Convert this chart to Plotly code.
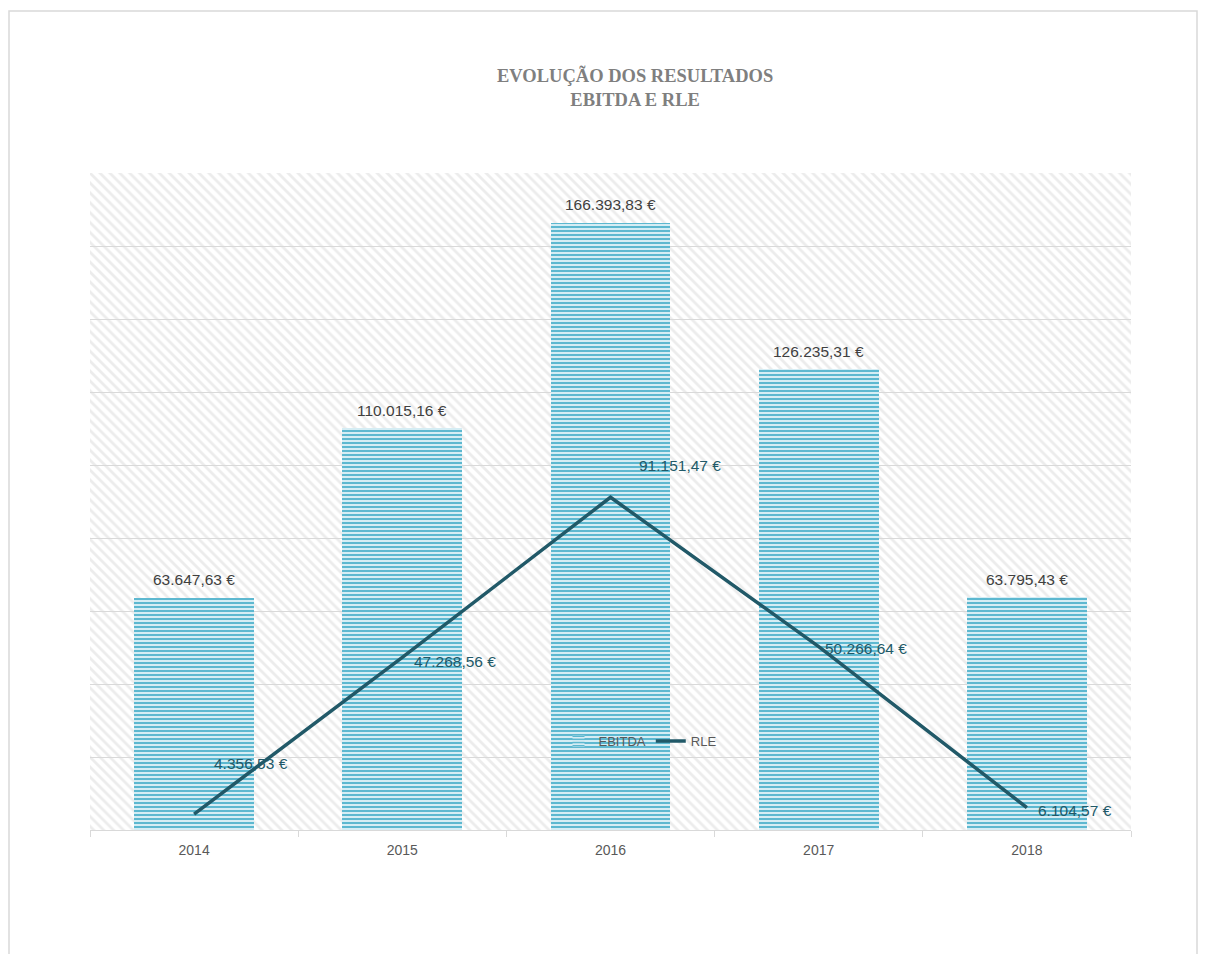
import plotly.graph_objects as go

years = ["2014", "2015", "2016", "2017", "2018"]
ebitda = [63647.63, 110015.16, 166393.83, 126235.31, 63795.43]
rle = [4356.53, 47268.56, 91151.47, 50266.64, 6104.57]
ebitda_labels = ["63.647,63 €", "110.015,16 €", "166.393,83 €", "126.235,31 €", "63.795,43 €"]
rle_labels = ["4.356,53 €", "47.268,56 €", "91.151,47 €", "50.266,64 €", "6.104,57 €"]
y_max = 180000
y_step = 20000

# label offsets (pixels) for the RLE data labels
rle_xshift = [18, 10, 26, 4, 9]
rle_yshift = [51, -4, 32, -2, -3]

n = len(years)
xpos = list(range(n))

OFF = 8  # page offset of the figure in the browser
W, H = 1209 - OFF, 954 - OFF
L, R, T, B = 90 - OFF, 78, 173 - OFF, 124
pw, ph = W - L - R, H - T - B

def px_x(v):  # screen px -> paper
    return (v - OFF - L) / pw

def px_y(v):
    return (H - B - (v - OFF)) / ph

LINE_COLOR = "#215968"
TEXT_COLOR = "#404040"
GRID = "#d9d9d9"
FONT = "Liberation Sans"

fig = go.Figure()

# hatched plot-area background
fig.add_trace(go.Bar(
    x=[(n - 1) / 2], y=[y_max], width=[n],
    marker=dict(color="rgba(0,0,0,0)", line=dict(width=0),
                pattern=dict(shape="\\", fgcolor="#d9d9d9", bgcolor="rgba(0,0,0,0)",
                             size=7, solidity=0.4)),
    showlegend=False, hoverinfo="skip",
))

fig.add_trace(go.Bar(
    x=xpos, y=ebitda, width=0.576, name="EBITDA",
    marker=dict(color="#4BACC6", line=dict(width=0),
                pattern=dict(shape="-", fgcolor="#5DB8D0", bgcolor="#D5EDF4",
                             size=4, solidity=0.5, fillmode="replace")),
    cliponaxis=False,
))

fig.add_trace(go.Scatter(
    x=xpos, y=rle, name="RLE", mode="lines",
    line=dict(color=LINE_COLOR, width=3.5),
))

for i in range(n):
    fig.add_annotation(
        x=xpos[i], y=ebitda[i], xref="x", yref="y",
        text=ebitda_labels[i], showarrow=False,
        xanchor="center", yanchor="middle", yshift=18,
        font=dict(family=FONT, size=15.5, color=TEXT_COLOR),
    )
    fig.add_annotation(
        x=xpos[i], y=rle[i], xref="x", yref="y",
        text=rle_labels[i], showarrow=False,
        xanchor="left", yanchor="middle",
        xshift=rle_xshift[i], yshift=rle_yshift[i],
        font=dict(family=FONT, size=15.5, color=LINE_COLOR),
    )

# title
fig.add_annotation(
    x=px_x(635), y=px_y(88), xref="paper", yref="paper",
    text="<b>EVOLUÇÃO DOS RESULTADOS<br>EBITDA E RLE</b>",
    showarrow=False, xanchor="center", yanchor="middle",
    font=dict(family="Liberation Serif", size=18.5, color="#7f7f7f"),
)

# chart-area border
fig.add_shape(
    type="rect", xref="paper", yref="paper",
    x0=px_x(9), x1=px_x(1197), y0=px_y(975), y1=px_y(11),
    line=dict(color=GRID, width=1.5), fillcolor="rgba(0,0,0,0)", layer="below",
)

fig.update_layout(
    width=W, height=H,
    margin=dict(l=L, r=R, t=T, b=B),
    paper_bgcolor="white", plot_bgcolor="white",
    barmode="overlay", bargap=0,
    showlegend=True,
    legend=dict(orientation="h", x=px_x(640), y=px_y(741), xanchor="center", yanchor="middle",
                font=dict(family=FONT, size=13, color="#595959"),
                itemwidth=30, bgcolor="rgba(0,0,0,0)"),
    xaxis=dict(range=[-0.5, n - 0.5], tickvals=xpos, ticktext=years,
               showgrid=False, zeroline=False, showline=True, linecolor=GRID, linewidth=1,
               ticks="", ticklabelstandoff=7,
               tickfont=dict(family=FONT, size=14, color="#595959"),
               minor=dict(tickvals=[i - 0.5 for i in range(n + 1)], ticks="outside",
                          ticklen=6, tickcolor=GRID, showgrid=False)),
    yaxis=dict(range=[0, y_max], dtick=y_step, showticklabels=False,
               showgrid=True, gridcolor=GRID, gridwidth=1, zeroline=False, ticks=""),
)

fig.write_html("out.html")
